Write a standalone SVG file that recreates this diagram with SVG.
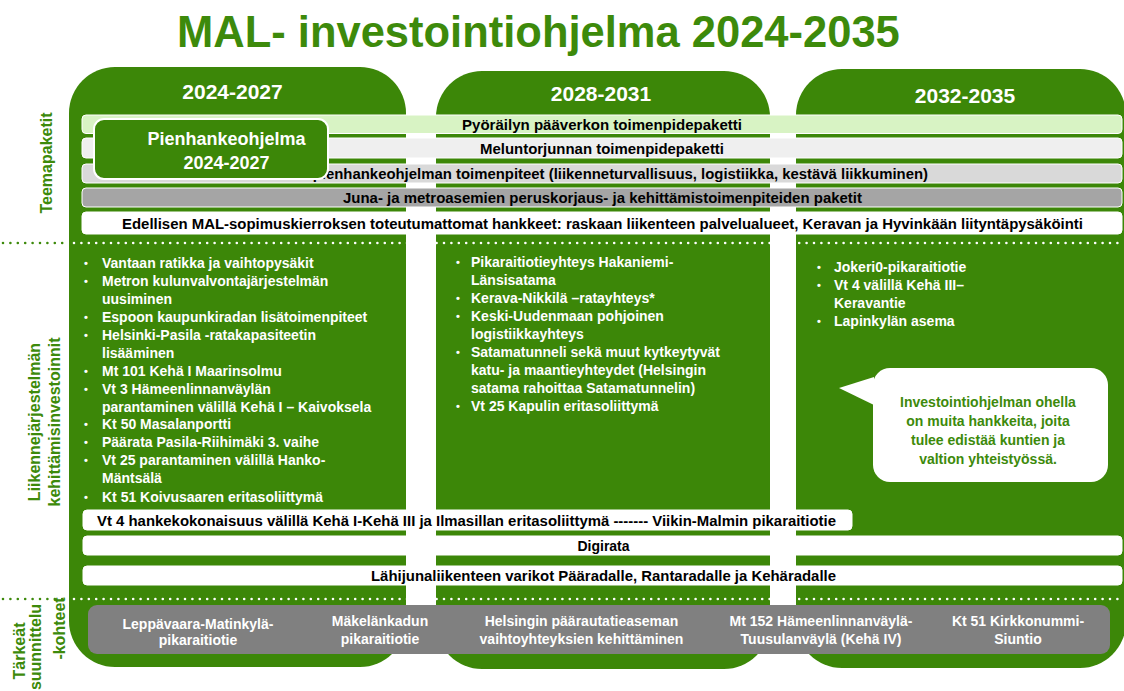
<svg xmlns="http://www.w3.org/2000/svg" width="1124" height="691" viewBox="0 0 1124 691">
<style>
.col{fill:#3c8708}
.t{font-family:"Liberation Sans",Arial,sans-serif;font-weight:bold}
.title{font-size:43.5px;fill:#3d8a0b}
.hdr{font-size:21px;fill:#fff;text-anchor:middle}
.lbl{font-size:16px;fill:#3d8a0b;text-anchor:middle}
.bar{stroke:#fff;stroke-width:1}
.bt{font-size:14.5px;fill:#000;text-anchor:middle}
.bl{font-size:14px;fill:#fff}
.bu{font-size:11px;fill:#fff;text-anchor:middle}
.gt{font-size:14px;fill:#fff;text-anchor:middle}
.ct{font-size:14px;fill:#3d8a0b;text-anchor:middle}
.dw{stroke:#fff;stroke-width:2.6;stroke-linecap:round;stroke-dasharray:0 7.4;fill:none}
.dg{stroke:#3d8a0b;stroke-width:2.6;stroke-linecap:round;stroke-dasharray:0 7.4;fill:none}
</style>
<rect width="1124" height="691" fill="#fff"/>
<text class="t title" x="177" y="46.5">MAL- investointiohjelma 2024-2035</text>

<g id="col1"><rect class="col" x="69" y="67" width="337" height="600" rx="46"/><text class="t hdr" x="232.5" y="99">2024-2027</text></g>
<g id="col2"><rect class="col" x="436" y="71" width="334" height="598" rx="46"/><text class="t hdr" x="601" y="101">2028-2031</text></g>
<g id="col3"><rect class="col" x="796" y="69" width="330" height="599" rx="46"/><text class="t hdr" x="965" y="103">2032-2035</text></g>

<g id="labels">
<text class="t lbl" transform="translate(52,163) rotate(-90)">Teemapaketit</text>
<text class="t lbl" transform="translate(40,422) rotate(-90)">Liikennejärjestelmän</text>
<text class="t lbl" transform="translate(59.5,422) rotate(-90)">kehittämisinvestoinnit</text>
<text class="t lbl" transform="translate(25,651) rotate(-90)">Tärkeät</text>
<text class="t lbl" transform="translate(41,647) rotate(-90)">suunnittelu</text>
<text class="t lbl" transform="translate(65,628.5) rotate(-90)">-kohteet</text>
</g>

<g id="bars">
<g id="bar-pyoraily"><rect class="bar" x="82" y="115" width="1040" height="18.5" rx="4" fill="#d8f3c4"/><text class="t bt" x="602" y="130" textLength="280" lengthAdjust="spacingAndGlyphs">Pyöräilyn pääverkon toimenpidepaketti</text></g>
<g id="bar-melu"><rect class="bar" x="82" y="138" width="1040" height="20" rx="4" fill="#efefef"/><text class="t bt" x="602" y="154" textLength="244" lengthAdjust="spacingAndGlyphs">Meluntorjunnan toimenpidepaketti</text></g>
<g id="bar-muut"><rect class="bar" x="82" y="164" width="1040" height="19" rx="4" fill="#d9d9d9"/><text class="t bt" x="600.5" y="179" textLength="655" lengthAdjust="spacingAndGlyphs">Muut pienhankeohjelman toimenpiteet (liikenneturvallisuus, logistiikka, kestävä liikkuminen)</text></g>
<g id="bar-juna"><rect class="bar" x="82" y="188" width="1040" height="19" rx="4" fill="#a5a5a5"/><text class="t bt" x="602.5" y="203" textLength="519" lengthAdjust="spacingAndGlyphs">Juna- ja metroasemien peruskorjaus- ja kehittämistoimenpiteiden paketit</text></g>
<g id="bar-edellisen"><rect class="bar" x="82" y="212" width="1040" height="22" rx="4" fill="#fff"/><text class="t bt" x="602.5" y="229" textLength="961" lengthAdjust="spacingAndGlyphs">Edellisen MAL-sopimuskierroksen toteutumattomat hankkeet: raskaan liikenteen palvelualueet, Keravan ja Hyvinkään liityntäpysäköinti</text></g>
</g>

<g id="pienhanke">
<rect x="94" y="119" width="234" height="60" rx="10" fill="#3c8708" stroke="#fff" stroke-width="2"/>
<text class="t hdr" style="font-size:18px" x="226.5" y="145">Pienhankeohjelma</text>
<text class="t hdr" style="font-size:18px" x="226.5" y="168.5">2024-2027</text>
</g>

<g id="dividers">
<line class="dg" x1="3" y1="243" x2="63" y2="243"/>
<line class="dw" x1="74" y1="243" x2="1122" y2="243"/>
<line class="dg" x1="3" y1="599" x2="63" y2="599"/>
<line class="dw" x1="74" y1="599" x2="1122" y2="599"/>
</g>

<g id="list1">
<text class="t bu" x="86" y="267">•</text><text class="t bl" x="102" y="268">Vantaan ratikka ja vaihtopysäkit</text>
<text class="t bu" x="86" y="285">•</text><text class="t bl" x="102" y="286">Metron kulunvalvontajärjestelmän</text>
<text class="t bl" x="102" y="304">uusiminen</text>
<text class="t bu" x="86" y="321">•</text><text class="t bl" x="102" y="322">Espoon kaupunkiradan lisätoimenpiteet</text>
<text class="t bu" x="86" y="339">•</text><text class="t bl" x="102" y="340">Helsinki-Pasila -ratakapasiteetin</text>
<text class="t bl" x="102" y="357.5">lisääminen</text>
<text class="t bu" x="86" y="374.5">•</text><text class="t bl" x="102" y="375.5">Mt 101 Kehä I Maarinsolmu</text>
<text class="t bu" x="86" y="392.5">•</text><text class="t bl" x="102" y="393.5">Vt 3 Hämeenlinnanväylän</text>
<text class="t bl" x="102" y="411.5">parantaminen välillä Kehä I – Kaivoksela</text>
<text class="t bu" x="86" y="428">•</text><text class="t bl" x="102" y="429">Kt 50 Masalanportti</text>
<text class="t bu" x="86" y="446">•</text><text class="t bl" x="102" y="447">Päärata Pasila-Riihimäki 3. vaihe</text>
<text class="t bu" x="86" y="464">•</text><text class="t bl" x="102" y="465">Vt 25 parantaminen välillä Hanko-</text>
<text class="t bl" x="102" y="483">Mäntsälä</text>
<text class="t bu" x="86" y="500.5">•</text><text class="t bl" x="102" y="501.5">Kt 51 Koivusaaren eritasoliittymä</text>
</g>

<g id="list2">
<text class="t bu" x="458" y="265.5">•</text><text class="t bl" x="471" y="266.5">Pikaraitiotieyhteys Hakaniemi-</text>
<text class="t bl" x="471" y="284.5">Länsisatama</text>
<text class="t bu" x="458" y="301.5">•</text><text class="t bl" x="471" y="302.5">Kerava-Nikkilä –ratayhteys*</text>
<text class="t bu" x="458" y="319.5">•</text><text class="t bl" x="471" y="320.5">Keski-Uudenmaan pohjoinen</text>
<text class="t bl" x="471" y="338.5">logistiikkayhteys</text>
<text class="t bu" x="458" y="355.5">•</text><text class="t bl" x="471" y="356.5">Satamatunneli sekä muut kytkeytyvät</text>
<text class="t bl" x="471" y="374.5">katu- ja maantieyhteydet (Helsingin</text>
<text class="t bl" x="471" y="392.5">satama rahoittaa Satamatunnelin)</text>
<text class="t bu" x="458" y="409.5">•</text><text class="t bl" x="471" y="410.5">Vt 25 Kapulin eritasoliittymä</text>
</g>

<g id="list3">
<text class="t bu" x="819" y="271">•</text><text class="t bl" x="834" y="272">Jokeri0-pikaraitiotie</text>
<text class="t bu" x="819" y="289">•</text><text class="t bl" x="834" y="290">Vt 4 välillä Kehä III–</text>
<text class="t bl" x="834" y="308">Keravantie</text>
<text class="t bu" x="819" y="325">•</text><text class="t bl" x="834" y="326">Lapinkylän asema</text>
</g>

<g id="callout">
<rect x="873" y="368" width="235" height="114" rx="17" fill="#fff"/>
<polygon points="874,377 839,388 874,405" fill="#fff"/>
<text class="t ct" x="988" y="407">Investointiohjelman ohella</text>
<text class="t ct" x="988" y="426">on muita hankkeita, joita</text>
<text class="t ct" x="988" y="445">tulee edistää kuntien ja</text>
<text class="t ct" x="988" y="464">valtion yhteistyössä.</text>
</g>

<g id="lower-bars">
<g id="bar-vt4"><rect class="bar" x="83" y="510" width="769" height="20" rx="4" fill="#fff"/><text class="t bt" style="font-size:14px" x="466.5" y="526" textLength="739" lengthAdjust="spacingAndGlyphs">Vt 4 hankekokonaisuus välillä Kehä I-Kehä III ja Ilmasillan eritasoliittymä ------- Viikin-Malmin pikaraitiotie</text></g>
<g id="bar-digirata"><rect class="bar" x="83" y="536" width="1039" height="19" rx="4" fill="#fff"/><text class="t bt" style="font-size:14px" x="603.5" y="551">Digirata</text></g>
<g id="bar-varikot"><rect class="bar" x="83" y="566" width="1039" height="19" rx="4" fill="#fff"/><text class="t bt" style="font-size:14px" x="603.5" y="581" textLength="465" lengthAdjust="spacingAndGlyphs">Lähijunaliikenteen varikot Pääradalle, Rantaradalle ja Kehäradalle</text></g>
</g>

<g id="planning">
<rect x="88" y="605" width="1022" height="49" rx="9" fill="#808080"/>
<text class="t gt" x="198" y="628.5">Leppävaara-Matinkylä-</text>
<text class="t gt" x="198" y="645">pikaraitiotie</text>
<text class="t gt" x="380" y="625.5">Mäkelänkadun</text>
<text class="t gt" x="380" y="643.5">pikaraitiotie</text>
<text class="t gt" x="581.5" y="625.5">Helsingin päärautatieaseman</text>
<text class="t gt" x="581.5" y="643.5">vaihtoyhteyksien kehittäminen</text>
<text class="t gt" x="821" y="625.5">Mt 152 Hämeenlinnanväylä-</text>
<text class="t gt" x="821" y="643.5">Tuusulanväylä (Kehä IV)</text>
<text class="t gt" x="1018" y="625.5">Kt 51 Kirkkonummi-</text>
<text class="t gt" x="1018" y="643.5">Siuntio</text>
</g>
</svg>
